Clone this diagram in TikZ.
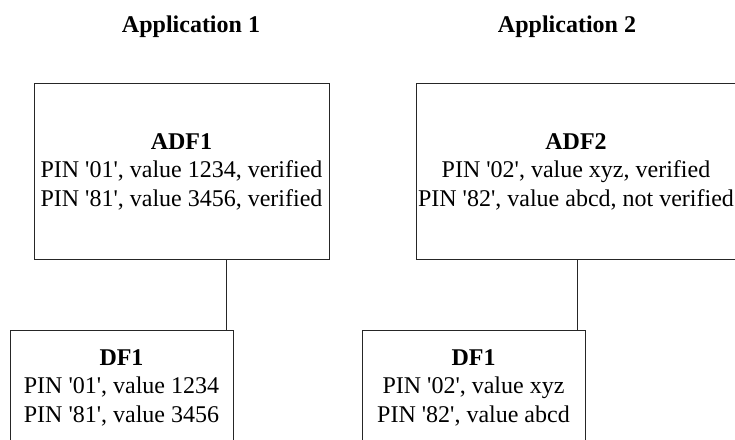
\documentclass[tikz,border=0pt]{standalone}
\usepackage{fontspec}
\setmainfont[Ligatures=TeXOff]{Liberation Serif}
\usetikzlibrary{positioning}

\begin{document}
\begin{tikzpicture}[x=1pt, y=-1pt, line width=0.8pt,
    every node/.style={font=\fontsize{24}{28.5}\selectfont, align=center},
    adf/.style={draw=black!85, minimum height=176pt, inner xsep=1pt},
    df/.style={draw=black!85, anchor=north, minimum width=223pt, inner ysep=19pt},
    app/.style={anchor=base, font=\fontsize{24}{28.5}\selectfont\bfseries}]
    \useasboundingbox (0,0) rectangle (735,439);

    \node[app] (app1) at (191,32) {Application 1};
    \node[app] (app2) at (567,32) {Application 2};

    \node[adf, minimum width=295pt] (adf1) at (181.5,171.5)
        {\textbf{ADF1}\\PIN '01', value 1234, verified\\PIN '81', value 3456, verified};
    \node[adf, minimum width=320pt] (adf2) at (576,171.5)
        {\textbf{ADF2}\\PIN '02', value xyz, verified\\PIN '82', value abcd, not verified};

    \node[df] (df1) at (121.5,330) {\textbf{DF1}\\PIN '01', value 1234\\PIN '81', value 3456};
    \node[df] (df2) at (473.5,330) {\textbf{DF1}\\PIN '02', value xyz\\PIN '82', value abcd};

    \path[draw=black!85]
    ([xshift=-7pt]df1.north east) edge ([xshift=-7pt]df1.north east |- adf1.south)
    ([xshift=-8pt]df2.north east) edge ([xshift=-8pt]df2.north east |- adf2.south);
\end{tikzpicture}
\end{document}
